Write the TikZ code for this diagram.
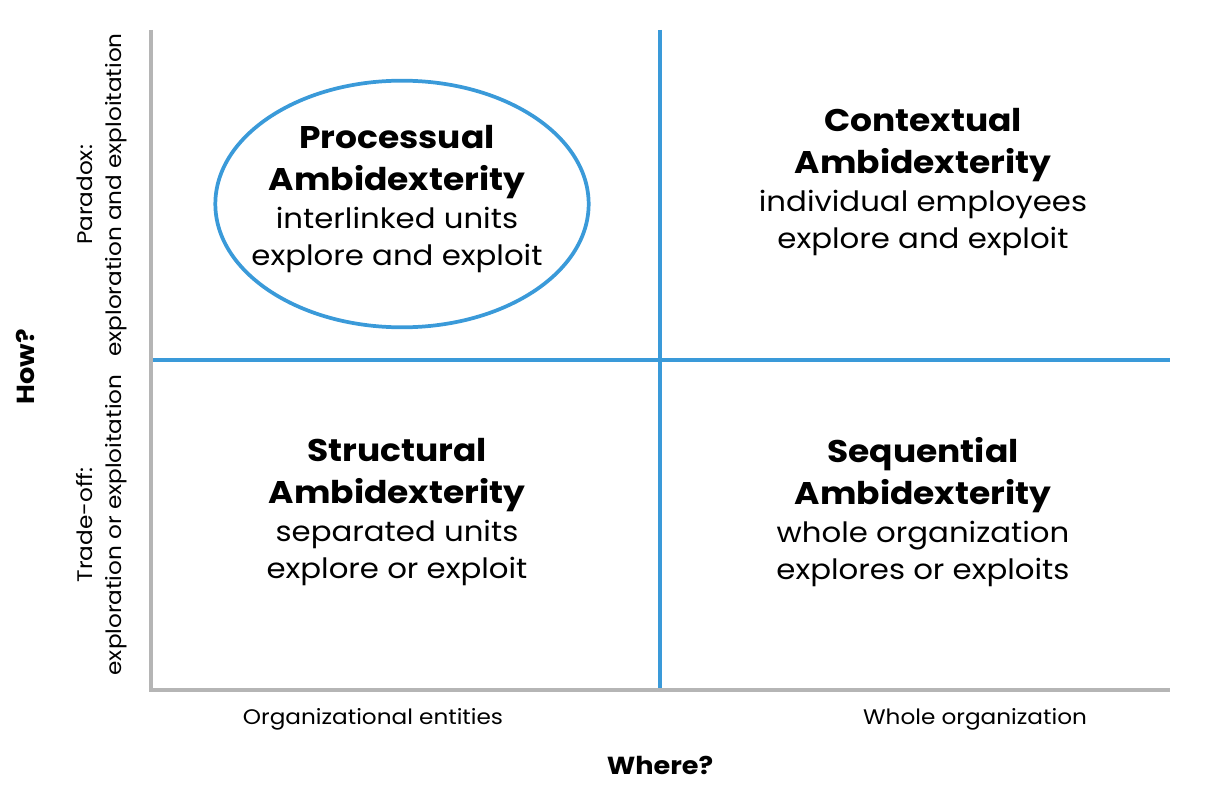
\documentclass[tikz,border=0pt]{standalone}
\usepackage{fontspec}
\setmainfont{Poppins}[FakeStretch=1.1]
\usetikzlibrary{positioning,shapes.geometric}
\definecolor{ambBlue}{HTML}{3A9AD9}
\definecolor{ambAxis}{HTML}{B5B5B5}
\tikzset{
  quad/.style={align=center, inner sep=0pt, font=\fontsize{21}{28}\selectfont},
  sidelabel/.style={align=center, inner sep=0pt, rotate=90, font=\fontsize{15.8}{22}\selectfont},
  bottomlabel/.style={inner sep=0pt, font=\fontsize{15.8}{18}\selectfont},
  axistitle/.style={inner sep=0pt, font=\fontsize{18.5}{22}\selectfont\bfseries},
  axisline/.style={ambAxis, line width=3pt},
  divider/.style={ambBlue, line width=2.8pt},
  ring/.style={draw=ambBlue, ellipse, line width=2.8pt, inner sep=0pt}
}
\newcommand{\qhead}[1]{{\fontsize{23.5}{28}\selectfont\bfseries #1}}

\begin{document}
\begin{tikzpicture}[x=0.75pt, y=-0.75pt]
  \useasboundingbox (0,0) rectangle (1206,795);
  % frame corners
  \coordinate (top) at (151,30);
  \coordinate (orig) at (151,690);
  \coordinate (right) at (1170,690);
  \coordinate (midtop) at (660,30);
  \coordinate (midbot) at (660,690);
  \coordinate (midleft) at (151,360);
  \coordinate (midright) at (1170,360);
  % dividers
  \draw[divider] (midtop) -- (midbot);
  \draw[divider] (midleft) -- (midright);
  \draw[axisline] (top) -- (orig) -- (right);
  % quadrants
  \node[ring, minimum width=280pt, minimum height=185pt] (procring) at (402,204) {};
  \node[quad] (proc) at (397,199) {\qhead{Processual}\\[4pt]\qhead{Ambidexterity}\\interlinked units\\explore and exploit};
  \node[quad] (ctx) at (923,182) {\qhead{Contextual}\\[4pt]\qhead{Ambidexterity}\\individual employees\\explore and exploit};
  \node[quad] (struct) at (397,512) {\qhead{Structural}\\[4pt]\qhead{Ambidexterity}\\separated units\\explore or exploit};
  \node[quad] (seq) at (923,512) {\qhead{Sequential}\\[4pt]\qhead{Ambidexterity}\\whole organization\\explores or exploits};
  % axis labels
  \node[sidelabel] (paradox) at (102,195) {Paradox:\\exploration and exploitation};
  \node[sidelabel] (tradeoff) at (102,525) {Trade-off:\\exploration or exploitation};
  \node[axistitle, rotate=90] (how) at (25,367) {How?};
  \node[bottomlabel] (orgent) at (373,719) {Organizational entities};
  \node[bottomlabel] (wholeorg) at (975,719) {Whole organization};
  \node[axistitle] (where) at (660,765) {Where?};
\end{tikzpicture}
\end{document}
